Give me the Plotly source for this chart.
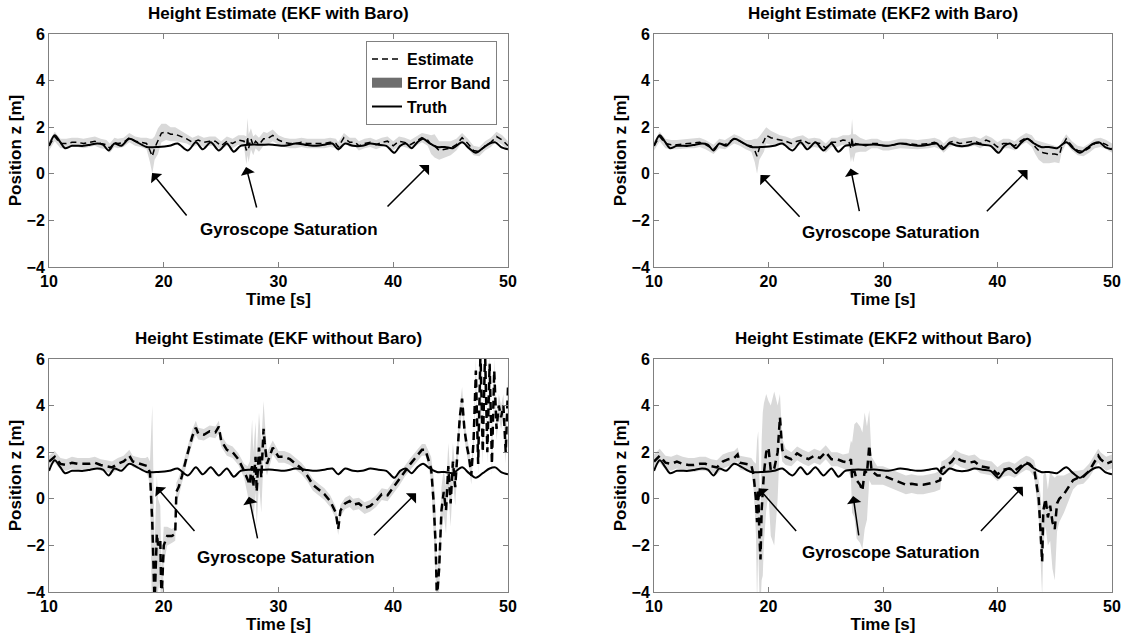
import plotly.graph_objects as go

# ---------------- data ----------------
truth_t = [10.0, 10.5, 11.0, 11.4, 12.0, 13.0, 13.6, 14.2, 14.7, 15.2,
           15.7, 16.3, 17.0, 17.7, 18.5, 19.5, 20.5, 21.2, 22.1, 22.8,
           23.4, 24.1, 24.8, 25.5, 26.1, 26.7, 27.5, 28.5, 29.5, 30.5,
           31.5, 32.3, 33.0, 34.0, 34.7, 35.2, 35.8, 36.5, 37.3, 38.0,
           38.7, 39.4, 40.1, 40.6, 41.1, 41.6, 42.1, 42.6, 43.2, 43.8,
           44.5, 45.2, 46.0, 46.6, 47.2, 47.8, 48.4, 48.9, 49.4, 50.0]
truth_z = [1.2, 1.65, 1.35, 1.1, 1.2, 1.2, 1.25, 1.3, 1.25, 1.0,
           1.3, 1.2, 1.5, 1.35, 1.15, 1.15, 1.2, 1.3, 1.0, 1.35,
           1.05, 1.35, 1.0, 1.3, 0.95, 1.2, 1.25, 1.25, 1.25, 1.2,
           1.3, 1.25, 1.2, 1.25, 1.3, 1.05, 1.3, 1.2, 1.2, 1.3,
           1.25, 1.2, 0.9, 1.2, 1.3, 1.1, 1.35, 1.5, 1.3, 1.15,
           1.15, 1.1, 1.35, 1.1, 0.9, 1.1, 1.3, 1.35, 1.15, 1.05]

# EKF with Baro
tl_t = [10.0, 10.5, 11.0, 11.5, 12.0, 12.5, 13.0, 13.5, 14.0, 14.5,
        15.0, 15.3, 15.7, 16.0, 16.5, 17.0, 17.5, 18.0, 18.5, 18.8,
        19.0, 19.2, 19.5, 19.8, 20.2, 20.6, 21.0, 21.5, 22.0, 22.5,
        23.0, 23.5, 24.0, 24.5, 25.0, 25.5, 26.0, 26.5, 27.0, 27.2,
        27.3, 27.4, 27.6, 27.8, 28.0, 28.3, 28.7, 29.0, 29.5, 30.0,
        30.5, 31.0, 31.5, 32.0, 32.5, 33.0, 33.5, 34.0, 34.5, 35.0,
        35.2, 35.7, 36.2, 36.7, 37.0, 37.5, 38.0, 38.5, 39.0, 39.5,
        40.0, 40.5, 41.0, 41.5, 42.0, 42.5, 43.0, 43.3, 43.6, 44.0,
        44.5, 45.0, 45.5, 46.0, 46.5, 47.0, 47.5, 48.0, 48.5, 49.0,
        49.5, 50.0]
tl_z = [1.2, 1.6, 1.3, 1.3, 1.35, 1.35, 1.3, 1.35, 1.4, 1.3,
        1.25, 1.1, 1.35, 1.3, 1.35, 1.55, 1.4, 1.35, 1.3, 1.0,
        0.75, 1.1, 1.4, 1.75, 1.8, 1.7, 1.7, 1.6, 1.5, 1.35,
        1.45, 1.35, 1.4, 1.4, 1.2, 1.4, 1.3, 1.45, 1.4, 1.0,
        1.6, 1.1, 1.5, 1.2, 1.4, 1.25, 1.5, 1.5, 1.65, 1.45,
        1.35, 1.3, 1.3, 1.35, 1.3, 1.3, 1.3, 1.3, 1.35, 1.3,
        1.15, 1.55, 1.35, 1.35, 1.2, 1.3, 1.35, 1.25, 1.35, 1.4,
        1.2, 1.4, 1.35, 1.25, 1.4, 1.55, 1.45, 1.25, 1.2, 1.0,
        1.05, 1.1, 1.25, 1.55, 1.3, 1.0, 0.95, 1.2, 1.35, 1.6,
        1.45, 1.2]
tl_s = [0.2, 0.2, 0.2, 0.2, 0.2, 0.2, 0.2, 0.2, 0.2, 0.2,
        0.2, 0.2, 0.2, 0.2, 0.2, 0.2, 0.2, 0.2, 0.25, 0.5,
        0.75, 0.5, 0.55, 0.4, 0.35, 0.3, 0.3, 0.25, 0.2, 0.2,
        0.2, 0.2, 0.2, 0.2, 0.2, 0.2, 0.2, 0.2, 0.25, 0.6,
        0.8, 0.6, 0.45, 0.4, 0.3, 0.3, 0.3, 0.25, 0.25, 0.2,
        0.2, 0.2, 0.2, 0.2, 0.2, 0.2, 0.2, 0.2, 0.2, 0.2,
        0.2, 0.2, 0.2, 0.2, 0.2, 0.2, 0.2, 0.2, 0.2, 0.2,
        0.2, 0.2, 0.2, 0.2, 0.2, 0.2, 0.25, 0.4, 0.5, 0.4,
        0.35, 0.3, 0.25, 0.2, 0.2, 0.2, 0.2, 0.2, 0.2, 0.2,
        0.2, 0.2]

# EKF2 with Baro
tr_t = [10.0, 10.5, 11.0, 11.5, 12.0, 13.0, 13.5, 14.0, 14.5, 15.2,
        15.7, 16.2, 17.0, 17.5, 18.0, 18.5, 18.8, 19.0, 19.2, 19.6,
        19.8, 20.2, 20.6, 21.0, 21.5, 22.0, 22.5, 23.0, 23.5, 24.0,
        24.5, 25.0, 25.5, 26.0, 26.5, 27.0, 27.2, 27.3, 27.4, 27.6,
        28.0, 28.5, 29.0, 29.5, 30.0, 30.5, 31.0, 31.5, 32.0, 33.0,
        34.0, 34.5, 35.0, 35.3, 35.8, 36.2, 36.7, 37.5, 38.0, 38.5,
        39.0, 39.5, 40.0, 40.5, 41.0, 41.5, 42.0, 42.5, 43.0, 43.3,
        43.6, 44.0, 44.5, 45.0, 45.4, 45.6, 46.0, 46.5, 47.0, 47.5,
        48.0, 48.5, 49.0, 49.5, 50.0]
tr_z = [1.2, 1.6, 1.3, 1.25, 1.25, 1.3, 1.3, 1.35, 1.25, 1.05,
        1.3, 1.25, 1.5, 1.4, 1.25, 1.2, 1.0, 0.75, 1.1, 1.4,
        1.65, 1.55, 1.5, 1.45, 1.4, 1.3, 1.4, 1.45, 1.3, 1.35,
        1.3, 1.1, 1.35, 1.35, 1.45, 1.4, 1.1, 1.55, 1.1, 1.3,
        1.25, 1.2, 1.3, 1.3, 1.2, 1.2, 1.25, 1.3, 1.3, 1.25,
        1.3, 1.35, 1.25, 1.1, 1.35, 1.4, 1.3, 1.35, 1.4, 1.3,
        1.45, 1.35, 1.15, 1.3, 1.3, 1.2, 1.4, 1.55, 1.4, 1.15,
        1.0, 0.9, 0.85, 0.85, 0.8, 1.15, 1.5, 1.2, 1.0, 0.95,
        1.1, 1.3, 1.35, 1.25, 1.1]
tr_s = [0.2, 0.2, 0.2, 0.2, 0.2, 0.2, 0.2, 0.2, 0.2, 0.2,
        0.2, 0.2, 0.2, 0.2, 0.2, 0.25, 0.5, 0.75, 0.5, 0.45,
        0.35, 0.3, 0.25, 0.2, 0.2, 0.2, 0.2, 0.2, 0.2, 0.2,
        0.2, 0.2, 0.2, 0.2, 0.2, 0.25, 0.6, 0.8, 0.6, 0.4,
        0.3, 0.25, 0.2, 0.2, 0.2, 0.2, 0.2, 0.2, 0.2, 0.2,
        0.2, 0.2, 0.2, 0.2, 0.2, 0.2, 0.2, 0.2, 0.2, 0.2,
        0.2, 0.2, 0.2, 0.2, 0.2, 0.2, 0.2, 0.2, 0.25, 0.3,
        0.4, 0.45, 0.4, 0.35, 0.35, 0.25, 0.2, 0.2, 0.2, 0.2,
        0.2, 0.2, 0.2, 0.2, 0.2]

# EKF without Baro
bl_t = [10.0, 10.5, 11.0, 11.5, 12.0, 12.5, 13.0, 13.5, 14.0, 14.5,
        15.0, 15.5, 16.0, 16.5, 17.0, 17.3, 17.6, 18.0, 18.4, 18.6,
        18.8, 19.0, 19.2, 19.4, 19.5, 19.7, 19.8, 20.0, 20.3, 20.7,
        21.0, 21.1, 21.3, 21.6, 22.0, 22.5, 22.8, 23.0, 23.5, 24.0,
        24.5, 24.8, 25.0, 25.5, 26.0, 26.5, 27.0, 27.3, 27.5, 27.6,
        27.7, 27.8, 28.0, 28.1, 28.3, 28.5, 28.7, 28.8, 29.0, 29.5,
        30.0, 30.5, 31.0, 31.5, 32.0, 32.5, 33.0, 33.5, 34.0, 34.5,
        35.0, 35.2, 35.4, 35.8, 36.2, 36.5, 37.0, 37.5, 38.0, 38.5,
        39.0, 39.5, 40.0, 40.5, 41.0, 41.5, 42.0, 42.5, 42.8, 43.0,
        43.3, 43.5, 43.7, 43.8, 44.0, 44.2, 44.4, 44.6, 44.8, 45.0,
        45.2, 45.4, 45.6, 45.8, 46.0, 46.2, 46.4, 46.6, 46.8, 47.0,
        47.2, 47.4, 47.6, 47.8, 48.0, 48.2, 48.4, 48.6, 48.8, 49.0,
        49.2, 49.4, 49.6, 49.8, 50.0]
bl_z = [1.6, 1.8, 1.5, 1.45, 1.55, 1.5, 1.5, 1.5, 1.55, 1.45,
        1.4, 1.35, 1.5, 1.6, 1.85, 1.6, 1.55, 1.5, 1.45, 1.4,
        1.1, -1.0, -4.5, -1.5, -2.0, -1.8, -4.5, -2.0, -1.6, -1.6,
        -1.5, 0.3, 0.5, 1.0, 1.8, 2.7, 3.05, 2.8, 2.75, 2.9,
        2.85, 3.1, 2.5, 2.1, 2.0, 1.7, 1.2, 0.8, 0.6, 1.2,
        1.4, 0.5, 1.8, 0.3, 2.2, 0.9, 3.0, 2.4, 1.5, 2.2,
        1.8, 1.8, 1.7, 1.5, 1.3, 1.0, 0.6, 0.4, 0.2, -0.1,
        -0.6, -1.3, -0.5, -0.2, -0.1, -0.25, -0.2, -0.4, -0.3, -0.1,
        0.2, 0.15, 0.5, 0.8, 1.2, 1.5, 1.8, 2.1, 2.1, 1.8,
        1.3, 0.0, -2.0, -4.3, -3.0, -0.5, 0.3, -0.5, 1.4, -0.2,
        1.6, 0.5, 2.0, 3.5, 4.3, 3.0, 2.3, 1.8, 1.0, 2.5,
        5.5, 1.5, 6.3, 2.0, 6.3, 2.0, 5.8, 1.5, 5.5, 3.0,
        4.0, 3.5, 4.0, 2.0, 4.8]
bl_s = [0.25, 0.25, 0.25, 0.25, 0.25, 0.25, 0.25, 0.25, 0.25, 0.25,
        0.25, 0.25, 0.25, 0.25, 0.25, 0.25, 0.25, 0.25, 0.3, 0.4,
        0.5, 5.0, 2.5, 2.5, 2.0, 1.5, 1.5, 0.8, 0.4, 0.3,
        0.3, 0.4, 0.4, 0.35, 0.3, 0.3, 0.3, 0.25, 0.25, 0.25,
        0.25, 0.25, 0.25, 0.25, 0.25, 0.25, 0.3, 0.6, 1.0, 1.5,
        2.0, 1.5, 1.5, 1.5, 1.5, 1.5, 1.2, 1.0, 0.5, 0.3,
        0.25, 0.25, 0.25, 0.25, 0.25, 0.25, 0.25, 0.25, 0.25, 0.25,
        0.25, 0.25, 0.25, 0.25, 0.25, 0.25, 0.25, 0.25, 0.25, 0.25,
        0.25, 0.25, 0.25, 0.25, 0.25, 0.25, 0.25, 0.25, 0.25, 0.3,
        0.5, 1.0, 1.5, 1.0, 1.0, 1.0, 1.0, 1.0, 1.0, 1.0,
        0.8, 0.8, 0.7, 0.5, 0.5, 0.4, 0.4, 0.4, 0.4, 0.4,
        0.5, 0.5, 0.5, 0.5, 0.5, 0.5, 0.5, 0.5, 0.5, 0.5,
        0.5, 0.5, 0.5, 0.5, 0.5]

# EKF2 without Baro
br_t = [10.0, 10.5, 11.0, 11.5, 12.0, 12.5, 13.0, 13.5, 14.0, 14.5,
        15.0, 15.5, 16.0, 16.5, 17.0, 17.3, 17.5, 18.0, 18.5, 18.7,
        18.9, 19.0, 19.1, 19.2, 19.3, 19.4, 19.5, 19.6, 19.8, 20.0,
        20.2, 20.5, 20.8, 21.0, 21.2, 21.5, 22.0, 22.5, 23.0, 23.5,
        24.0, 24.5, 25.0, 25.5, 26.0, 26.5, 27.0, 27.2, 27.3, 27.5,
        27.7, 28.0, 28.2, 28.4, 28.6, 28.8, 29.0, 29.5, 30.0, 30.5,
        31.0, 31.5, 32.0, 32.5, 33.0, 33.5, 34.0, 34.5, 35.0, 35.1,
        35.5, 36.0, 36.3, 36.8, 37.5, 38.0, 38.5, 39.0, 39.5, 40.0,
        40.5, 41.0, 41.5, 42.0, 42.5, 42.8, 43.2, 43.6, 43.8, 43.9,
        44.0, 44.2, 44.4, 44.6, 44.8, 45.0, 45.2, 45.4, 45.8, 46.2,
        46.6, 47.0, 47.5, 48.0, 48.5, 48.8, 49.0, 49.5, 50.0]
br_z = [1.6, 1.85, 1.55, 1.5, 1.6, 1.5, 1.45, 1.45, 1.5, 1.5,
        1.4, 1.35, 1.6, 1.7, 1.75, 1.9, 1.55, 1.5, 1.45, 1.0,
        0.0, -1.0, 0.4, -1.5, -2.6, -0.5, 0.2, 1.1, 2.0, 2.2,
        1.2, 1.3, 2.0, 3.5, 2.1, 1.8, 1.7, 1.95, 1.8, 1.7,
        1.85, 1.75, 2.0, 1.7, 1.7, 1.6, 1.55, 1.7, 0.9, 1.2,
        0.8, 0.6, 0.35, 1.2, 1.1, 2.3, 1.2, 1.0, 1.0, 0.9,
        0.8, 0.7, 0.6, 0.65, 0.6, 0.6, 0.65, 0.7, 0.8, 1.3,
        1.4, 1.6, 1.8, 1.65, 1.55, 1.6, 1.4, 1.35, 1.3, 1.05,
        1.25, 1.3, 1.2, 1.4, 1.55, 1.5, 1.3, 0.0, -1.5, -2.7,
        -0.5, 0.0, -0.8, -0.3, -1.0, -1.3, -0.2, 0.0, 0.2, 0.5,
        0.8, 0.9, 0.95, 1.2, 1.6, 1.85, 1.7, 1.5, 1.6]
br_s = [0.3, 0.3, 0.3, 0.3, 0.3, 0.3, 0.3, 0.3, 0.3, 0.3,
        0.3, 0.3, 0.3, 0.3, 0.3, 0.3, 0.3, 0.3, 0.3, 0.6,
        1.5, 3.5, 2.5, 2.5, 2.0, 3.0, 3.5, 3.0, 2.5, 2.0,
        2.8, 3.3, 2.0, 1.0, 0.5, 0.35, 0.3, 0.3, 0.3, 0.3,
        0.3, 0.3, 0.3, 0.3, 0.3, 0.3, 0.4, 0.8, 1.5, 2.0,
        2.5, 2.5, 2.5, 2.5, 2.0, 1.5, 0.6, 0.4, 0.4, 0.4,
        0.4, 0.4, 0.4, 0.4, 0.4, 0.4, 0.4, 0.4, 0.4, 0.3,
        0.3, 0.3, 0.3, 0.3, 0.3, 0.3, 0.3, 0.3, 0.3, 0.3,
        0.3, 0.3, 0.3, 0.3, 0.3, 0.3, 0.35, 0.8, 1.5, 1.5,
        1.5, 1.2, 1.2, 1.5, 2.0, 2.2, 1.2, 1.0, 0.8, 0.6,
        0.4, 0.3, 0.3, 0.3, 0.3, 0.3, 0.3, 0.3, 0.3]

titles = ["Height Estimate (EKF with Baro)", "Height Estimate (EKF2 with Baro)",
          "Height Estimate (EKF without Baro)", "Height Estimate (EKF2 without Baro)"]
legend_names = ["Estimate", "Error Band", "Truth"]
annotation_text = "Gyroscope Saturation"
x_ticks = [10, 20, 30, 40, 50]
y_ticks = [-4, -2, 0, 2, 4, 6]

# arrow (head x, head y, tail x, tail y) and text position per panel, in data units
arrows = [
    [(18.98, 0.03, 22.1, -1.85), (27.17, 0.29, 28.13, -1.51), (43.12, 0.38, 39.37, -1.47)],
    [(19.3, -0.05, 22.84, -1.91), (27.17, 0.23, 27.96, -1.67), (42.62, 0.16, 38.94, -1.67)],
    [(19.33, 0.52, 22.79, -1.45), (27.42, 0.09, 28.2, -1.76), (41.99, 0.24, 38.19, -1.63)],
    [(19.14, 0.45, 22.53, -1.45), (27.39, 0.12, 27.9, -1.63), (42.21, 0.52, 38.43, -1.45)],
]
text_pos = [(30.9, -2.41), (30.73, -2.51), (30.63, -2.51), (30.73, -2.31)]

# ---------------- figure ----------------
W, H = 1127, 635
FONT = "Liberation Sans, Arial, sans-serif"
AX = "#808080"

panels = [(tl_t, tl_z, tl_s, 1.5), (tr_t, tr_z, tr_s, 1.5),
          (bl_t, bl_z, bl_s, 2.5), (br_t, br_z, br_s, 2.5)]
xdom = [[49 / W, 508 / W], [654 / W, 1112 / W]]
ydom = [[1 - 267 / H, 1 - 34 / H], [1 - 592 / H, 1 - 359 / H]]

fig = go.Figure()
layout = dict(width=W, height=H, margin=dict(l=0, r=0, t=0, b=0),
              paper_bgcolor="white", plot_bgcolor="white",
              font=dict(family=FONT, color="black", size=16, weight="bold"),
              showlegend=True)
annotations = []

for i, (t, z, s, lw) in enumerate(panels):
    row, col = divmod(i, 2)
    sfx = "" if i == 0 else str(i + 1)
    xa, ya = "x" + sfx, "y" + sfx
    upper = [a + b for a, b in zip(z, s)]
    lower = [a - b for a, b in zip(z, s)]
    fig.add_trace(go.Scatter(x=t + t[::-1], y=upper + lower[::-1], fill="toself",
                             fillcolor="#d9d9d9", line=dict(width=0), mode="lines",
                             showlegend=False, hoverinfo="skip", xaxis=xa, yaxis=ya))
    fig.add_trace(go.Scatter(x=truth_t, y=truth_z, mode="lines",
                             line=dict(color="black", width=2, shape="spline", smoothing=0.8),
                             showlegend=False, xaxis=xa, yaxis=ya))
    fig.add_trace(go.Scatter(x=t, y=z, mode="lines",
                             line=dict(color="black", width=lw,
                                       dash="6px,4px" if lw < 2 else "8px,5px"),
                             showlegend=False, xaxis=xa, yaxis=ya))
    axis_common = dict(showline=True, linecolor=AX, linewidth=1, mirror="ticks",
                       ticks="inside", ticklen=5, tickcolor=AX, showgrid=False,
                       zeroline=False, automargin=False,
                       tickfont=dict(family=FONT, size=16, color="black", weight="bold"))
    layout["xaxis" + sfx] = dict(axis_common, domain=xdom[col], range=[10, 50],
                                 tickvals=x_ticks, anchor=ya,
                                 title=dict(text="Time [s]", standoff=1,
                                            font=dict(family=FONT, size=17, weight="bold")))
    layout["yaxis" + sfx] = dict(axis_common, domain=ydom[row], range=[-4, 6],
                                 tickvals=y_ticks, anchor=xa,
                                 title=dict(text="Position z [m]", standoff=0,
                                            font=dict(family=FONT, size=17, weight="bold")))
    # subplot title
    annotations.append(dict(text=titles[i], xref="paper", yref="paper",
                            x=sum(xdom[col]) / 2, y=ydom[row][1], xanchor="center",
                            yanchor="bottom", yshift=9, showarrow=False,
                            font=dict(family=FONT, size=17, weight="bold")))
    for (hx, hy, tx, ty) in arrows[i]:
        annotations.append(dict(x=hx, y=hy, ax=tx, ay=ty, xref=xa, yref=ya,
                                axref=xa, ayref=ya, text="", showarrow=True,
                                arrowhead=1, arrowsize=1.6, arrowwidth=1.5,
                                arrowcolor="black"))
    annotations.append(dict(x=text_pos[i][0], y=text_pos[i][1], xref=xa, yref=ya,
                            xanchor="center", text=annotation_text, showarrow=False,
                            font=dict(family=FONT, size=17, weight="bold")))

# legend-only entries (top-left panel)
fig.add_trace(go.Scatter(x=[None], y=[None], mode="lines", name=legend_names[0],
                         line=dict(color="black", width=1.5, dash="6px,4px")))
fig.add_trace(go.Scatter(x=[None], y=[None], mode="lines", name=legend_names[1],
                         line=dict(color="#6e6e6e", width=15)))
fig.add_trace(go.Scatter(x=[None], y=[None], mode="lines", name=legend_names[2],
                         line=dict(color="black", width=2)))

layout["annotations"] = annotations
layout["legend"] = dict(x=366 / W, y=1 - 41 / H, xanchor="left", yanchor="top",
                        bgcolor="white", bordercolor=AX, borderwidth=1,
                        font=dict(family=FONT, size=16, weight="bold"),
                        itemwidth=30, tracegroupgap=0)
fig.update_layout(**layout)
fig.write_html("out.html")
